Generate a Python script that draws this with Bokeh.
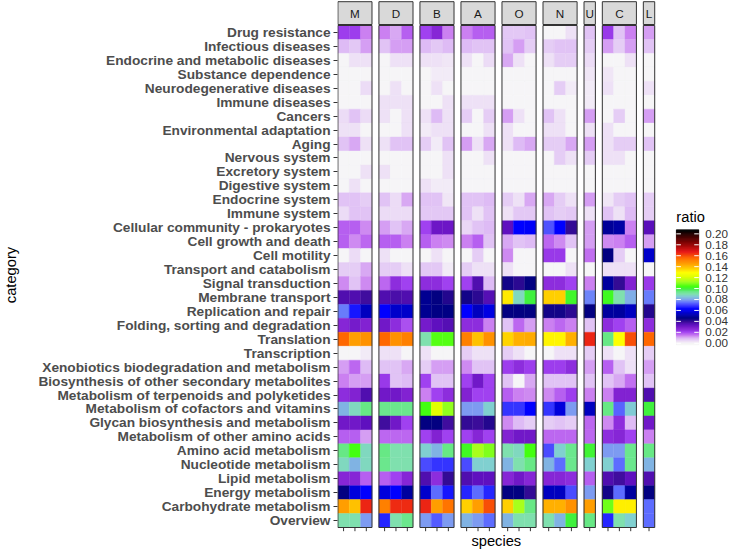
import numpy as np
from bokeh.plotting import figure
from bokeh.models import LinearColorMapper, FixedTicker, ColumnDataSource, Range1d
from bokeh.core.properties import value
from bokeh.embed import file_html
from bokeh.resources import INLINE

categories = [
    "Drug resistance", "Infectious diseases", "Endocrine and metabolic diseases",
    "Substance dependence", "Neurodegenerative diseases", "Immune diseases", "Cancers",
    "Environmental adaptation", "Aging", "Nervous system", "Excretory system",
    "Digestive system", "Endocrine system", "Immune system",
    "Cellular community - prokaryotes", "Cell growth and death", "Cell motility",
    "Transport and catabolism", "Signal transduction", "Membrane transport",
    "Replication and repair", "Folding, sorting and degradation", "Translation",
    "Transcription", "Xenobiotics biodegradation and metabolism",
    "Biosynthesis of other secondary metabolites",
    "Metabolism of terpenoids and polyketides", "Metabolism of cofactors and vitamins",
    "Glycan biosynthesis and metabolism", "Metabolism of other amino acids",
    "Amino acid metabolism", "Nucleotide metabolism", "Lipid metabolism",
    "Energy metabolism", "Carbohydrate metabolism", "Overview",
]

facets = ["M", "D", "B", "A", "O", "N", "U", "C", "L"]
n_species = [3, 3, 3, 3, 3, 3, 1, 3, 1]

# ratio values, one row per category (top to bottom), one value per species
ratio_M = [
    [0.022, 0.022, 0.015], [0.010, 0.008, 0.012], [0.001, 0.004, 0.004], [0.001, 0.001, 0.001],
    [0.001, 0.001, 0.005], [0.001, 0.001, 0.001], [0.005, 0.009, 0.005], [0.004, 0.004, 0.001],
    [0.009, 0.011, 0.004], [0.001, 0.001, 0.001], [0.001, 0.001, 0.004], [0.001, 0.004, 0.001],
    [0.009, 0.009, 0.007], [0.005, 0.009, 0.009], [0.018, 0.018, 0.014], [0.018, 0.014, 0.017],
    [0.001, 0.005, 0.001], [0.007, 0.007, 0.011], [0.014, 0.009, 0.014], [0.037, 0.037, 0.039],
    [0.076, 0.066, 0.054], [0.027, 0.030, 0.028], [0.157, 0.146, 0.149], [0.001, 0.001, 0.002],
    [0.012, 0.017, 0.010], [0.015, 0.012, 0.012], [0.025, 0.028, 0.037], [0.083, 0.089, 0.095],
    [0.031, 0.031, 0.034], [0.018, 0.018, 0.012], [0.095, 0.104, 0.089], [0.089, 0.083, 0.089],
    [0.027, 0.027, 0.018], [0.046, 0.058, 0.063], [0.146, 0.140, 0.166], [0.090, 0.090, 0.080],
]
ratio_D = [
    [0.015, 0.011, 0.018], [0.009, 0.012, 0.012], [0.001, 0.004, 0.004], [0.001, 0.001, 0.001],
    [0.001, 0.004, 0.001], [0.004, 0.004, 0.004], [0.004, 0.001, 0.004], [0.001, 0.001, 0.004],
    [0.004, 0.009, 0.009], [0.001, 0.001, 0.001], [0.004, 0.001, 0.001], [0.001, 0.001, 0.001],
    [0.009, 0.005, 0.011], [0.005, 0.005, 0.005], [0.012, 0.009, 0.011], [0.018, 0.018, 0.015],
    [0.004, 0.001, 0.001], [0.007, 0.007, 0.004], [0.017, 0.025, 0.021], [0.037, 0.038, 0.037],
    [0.063, 0.056, 0.056], [0.031, 0.025, 0.020], [0.157, 0.149, 0.152], [0.004, 0.004, 0.001],
    [0.009, 0.009, 0.011], [0.023, 0.009, 0.010], [0.031, 0.031, 0.028], [0.094, 0.094, 0.094],
    [0.039, 0.031, 0.021], [0.017, 0.017, 0.017], [0.095, 0.090, 0.090], [0.094, 0.090, 0.090],
    [0.018, 0.021, 0.027], [0.058, 0.063, 0.050], [0.152, 0.165, 0.165], [0.067, 0.090, 0.094],
]
ratio_B = [
    [0.021, 0.027, 0.015], [0.010, 0.008, 0.010], [0.004, 0.004, 0.003], [0.001, 0.002, 0.002],
    [0.001, 0.004, 0.001], [0.001, 0.001, 0.004], [0.004, 0.010, 0.004], [0.002, 0.004, 0.004],
    [0.007, 0.002, 0.009], [0.001, 0.001, 0.004], [0.001, 0.001, 0.004], [0.004, 0.002, 0.002],
    [0.009, 0.009, 0.003], [0.008, 0.008, 0.008], [0.021, 0.032, 0.032], [0.018, 0.015, 0.014],
    [0.001, 0.004, 0.001], [0.008, 0.008, 0.002], [0.025, 0.025, 0.021], [0.048, 0.046, 0.043],
    [0.048, 0.047, 0.047], [0.030, 0.034, 0.036], [0.090, 0.106, 0.106], [0.004, 0.001, 0.001],
    [0.007, 0.012, 0.012], [0.021, 0.009, 0.009], [0.015, 0.021, 0.025], [0.104, 0.122, 0.112],
    [0.046, 0.046, 0.039], [0.021, 0.028, 0.021], [0.087, 0.083, 0.095], [0.071, 0.069, 0.069],
    [0.037, 0.025, 0.041], [0.056, 0.075, 0.066], [0.166, 0.146, 0.154], [0.080, 0.073, 0.080],
]
ratio_A = [
    [0.015, 0.018, 0.018], [0.010, 0.009, 0.009], [0.004, 0.001, 0.005], [0.001, 0.001, 0.001],
    [0.001, 0.001, 0.001], [0.004, 0.004, 0.004], [0.007, 0.001, 0.007], [0.001, 0.001, 0.004],
    [0.012, 0.004, 0.011], [0.001, 0.001, 0.004], [0.001, 0.001, 0.001], [0.001, 0.001, 0.001],
    [0.009, 0.009, 0.010], [0.009, 0.004, 0.009], [0.006, 0.009, 0.010], [0.015, 0.018, 0.009],
    [0.001, 0.007, 0.001], [0.007, 0.004, 0.004], [0.021, 0.037, 0.010], [0.044, 0.042, 0.036],
    [0.063, 0.054, 0.059], [0.025, 0.025, 0.015], [0.152, 0.140, 0.149], [0.007, 0.004, 0.004],
    [0.014, 0.009, 0.009], [0.021, 0.031, 0.021], [0.028, 0.021, 0.021], [0.080, 0.080, 0.087],
    [0.041, 0.040, 0.043], [0.021, 0.027, 0.021], [0.103, 0.114, 0.110], [0.071, 0.087, 0.087],
    [0.037, 0.034, 0.034], [0.067, 0.075, 0.067], [0.137, 0.146, 0.160], [0.083, 0.080, 0.075],
]
ratio_O = [
    [0.008, 0.008, 0.009], [0.009, 0.012, 0.007], [0.011, 0.004, 0.001], [0.001, 0.001, 0.001],
    [0.001, 0.001, 0.001], [0.001, 0.001, 0.001], [0.012, 0.004, 0.001], [0.004, 0.001, 0.001],
    [0.004, 0.010, 0.011], [0.001, 0.001, 0.001], [0.001, 0.001, 0.001], [0.001, 0.001, 0.001],
    [0.007, 0.004, 0.011], [0.004, 0.008, 0.008], [0.034, 0.063, 0.062], [0.011, 0.009, 0.010],
    [0.014, 0.001, 0.001], [0.004, 0.001, 0.001], [0.044, 0.042, 0.046], [0.133, 0.089, 0.100],
    [0.046, 0.046, 0.046], [0.009, 0.017, 0.012], [0.136, 0.143, 0.144], [0.007, 0.004, 0.001],
    [0.022, 0.025, 0.022], [0.009, 0.001, 0.011], [0.018, 0.015, 0.014], [0.069, 0.069, 0.063],
    [0.014, 0.010, 0.007], [0.028, 0.031, 0.031], [0.090, 0.089, 0.104], [0.083, 0.090, 0.095],
    [0.027, 0.031, 0.027], [0.046, 0.046, 0.041], [0.137, 0.114, 0.095], [0.083, 0.090, 0.090],
]
ratio_N = [
    [0.001, 0.001, 0.004], [0.007, 0.009, 0.009], [0.004, 0.007, 0.007], [0.001, 0.001, 0.001],
    [0.001, 0.007, 0.002], [0.001, 0.001, 0.001], [0.009, 0.004, 0.001], [0.004, 0.004, 0.001],
    [0.007, 0.007, 0.011], [0.001, 0.007, 0.004], [0.001, 0.001, 0.001], [0.001, 0.001, 0.001],
    [0.011, 0.007, 0.004], [0.009, 0.007, 0.008], [0.072, 0.063, 0.041], [0.017, 0.014, 0.009],
    [0.023, 0.023, 0.001], [0.001, 0.001, 0.004], [0.025, 0.025, 0.021], [0.137, 0.137, 0.102],
    [0.044, 0.044, 0.042], [0.015, 0.017, 0.015], [0.131, 0.131, 0.143], [0.001, 0.004, 0.004],
    [0.022, 0.022, 0.025], [0.009, 0.009, 0.009], [0.014, 0.018, 0.022], [0.069, 0.058, 0.080],
    [0.007, 0.009, 0.007], [0.017, 0.017, 0.017], [0.071, 0.087, 0.094], [0.083, 0.075, 0.094],
    [0.027, 0.027, 0.025], [0.054, 0.054, 0.071], [0.143, 0.143, 0.149], [0.090, 0.083, 0.100],
]
ratio_U = [
    [0.009], [0.007], [0.005], [0.003], [0.002], [0.002], [0.012], [0.004], [0.012],
    [0.007], [0.001], [0.001], [0.012], [0.004], [0.012], [0.012], [0.016], [0.001],
    [0.015], [0.077], [0.046], [0.009], [0.166], [0.007], [0.012], [0.009], [0.015],
    [0.054], [0.017], [0.017], [0.101], [0.087], [0.018], [0.080], [0.146], [0.095],
]
ratio_C = [
    [0.023, 0.009, 0.015], [0.012, 0.007, 0.012], [0.001, 0.001, 0.004], [0.003, 0.001, 0.001],
    [0.004, 0.001, 0.001], [0.001, 0.001, 0.001], [0.001, 0.007, 0.001], [0.004, 0.001, 0.001],
    [0.004, 0.007, 0.007], [0.004, 0.004, 0.001], [0.001, 0.001, 0.001], [0.001, 0.001, 0.001],
    [0.003, 0.007, 0.009], [0.009, 0.004, 0.010], [0.049, 0.051, 0.015], [0.014, 0.015, 0.018],
    [0.046, 0.007, 0.001], [0.004, 0.004, 0.004], [0.050, 0.041, 0.028], [0.103, 0.090, 0.082],
    [0.050, 0.050, 0.054], [0.025, 0.021, 0.018], [0.095, 0.130, 0.160], [0.004, 0.001, 0.004],
    [0.018, 0.009, 0.004], [0.009, 0.011, 0.016], [0.015, 0.028, 0.028], [0.095, 0.074, 0.086],
    [0.014, 0.025, 0.010], [0.025, 0.027, 0.021], [0.080, 0.080, 0.094], [0.087, 0.075, 0.094],
    [0.037, 0.039, 0.034], [0.044, 0.075, 0.050], [0.108, 0.132, 0.132], [0.067, 0.090, 0.087],
]
ratio_L = [
    [0.012], [0.009], [0.001], [0.001], [0.004], [0.001], [0.012], [0.001], [0.009],
    [0.001], [0.001], [0.001], [0.007], [0.007], [0.035], [0.012], [0.056], [0.001],
    [0.023], [0.076], [0.043], [0.025], [0.157], [0.007], [0.012], [0.009], [0.037],
    [0.100], [0.031], [0.015], [0.095], [0.083], [0.037], [0.046], [0.075], [0.075],
]

ratio_by_facet = {"M": ratio_M, "D": ratio_D, "B": ratio_B, "A": ratio_A, "O": ratio_O,
                  "N": ratio_N, "U": ratio_U, "C": ratio_C, "L": ratio_L}

legend_ticks = [0.00, 0.02, 0.04, 0.06, 0.08, 0.10, 0.12, 0.14, 0.16, 0.18, 0.20]

# ---------------- colour scale (style) ----------------
stops = [
    (0.000, "#f7f7f7"), (0.009, "#e0c0f5"), (0.015, "#c878f0"), (0.021, "#a040f0"),
    (0.028, "#8020d0"), (0.034, "#6010c0"), (0.040, "#3a0c98"), (0.046, "#000080"),
    (0.054, "#0000c0"), (0.063, "#0000ff"), (0.071, "#4848ff"), (0.075, "#6070ff"),
    (0.080, "#80a0f0"), (0.087, "#80d0d0"), (0.090, "#80e0b0"), (0.095, "#68e888"),
    (0.100, "#40f040"), (0.104, "#40ff10"), (0.113, "#a0ff20"), (0.122, "#e0ff00"),
    (0.130, "#ffff00"), (0.137, "#ffd000"), (0.143, "#ffb000"), (0.149, "#ff9000"),
    (0.157, "#ff6800"), (0.168, "#e81818"), (0.185, "#800000"), (0.207, "#000000"),
]
lo, hi = -0.003, 0.2074
sv = np.array([s[0] for s in stops])
sc = np.array([[int(h[i:i + 2], 16) for i in (1, 3, 5)] for _, h in stops], dtype=float)
n_pal = 256
grid = np.linspace(lo, hi, n_pal)
rgb = np.stack([np.interp(grid, sv, sc[:, k]) for k in range(3)], axis=1)
palette = ["#%02x%02x%02x" % tuple(int(round(c)) for c in r) for r in rgb]
mapper = LinearColorMapper(palette=palette, low=lo, high=hi)

# ---------------- geometry (canvas pixels) ----------------
n_rows = len(categories)
W, H = 729, 549
left_border = 333
frame_w = W - left_border
col_px = 11.48            # px per species column
gap = 7.0 / col_px        # gap between facet panels (column units)
tiles_top_px, tiles_bot_px = 25.0, 527.0
row_px = (tiles_bot_px - tiles_top_px) / n_rows

starts = []
acc = 0.0
for n in n_species:
    starts.append(acc)
    acc += n + gap
total_x = acc - gap

pad_x = 0.4 / col_px
x0 = -pad_x
x1 = x0 + frame_w / col_px
y_top = n_rows - 0.5 + tiles_top_px / row_px
y_bot = y_top - H / row_px


def px_to_x(px):
    return x0 + (px - left_border) / col_px


def px_to_y(px):
    return y_top - px / row_px


xs, ys, vs = [], [], []
tick_x = []
for k, f in enumerate(facets):
    vals = ratio_by_facet[f]
    for j in range(n_species[k]):
        cx = starts[k] + j + 0.5
        tick_x.append(cx)
        for i in range(n_rows):
            xs.append(cx)
            ys.append(n_rows - 1 - i)
            vs.append(vals[i][j])
src = ColumnDataSource(dict(x=xs, y=ys, v=vs))

p = figure(width=W, height=H, title=None,
           x_range=Range1d(x0, x1), y_range=Range1d(y_bot, y_top),
           output_backend="svg", toolbar_location=None, x_axis_location=None,
           min_border_left=left_border, min_border_right=0,
           min_border_top=0, min_border_bottom=0)
p.outline_line_color = None
p.xgrid.visible = False
p.ygrid.visible = False
p.background_fill_color = "white"

# tiles
p.rect(x="x", y="y", width=1, height=1, source=src,
       fill_color={"field": "v", "transform": mapper},
       line_color={"field": "v", "transform": mapper}, line_width=0.4)

# panel borders
lefts = [starts[k] for k in range(len(facets))]
rights = [starts[k] + n_species[k] for k in range(len(facets))]
p.quad(left=lefts, right=rights, bottom=-0.5, top=n_rows - 0.5,
       fill_color=None, line_color="#333333", line_width=1)

# facet strips
strip_bottom = px_to_y(24.0)
strip_top = px_to_y(1.2)
p.quad(left=lefts, right=rights, bottom=strip_bottom, top=strip_top,
       fill_color="#d9d9d9", line_color="#333333", line_width=1)
p.text(x=[(a + b) / 2 for a, b in zip(lefts, rights)],
       y=(strip_bottom + strip_top) / 2, text=facets,
       text_align="center", text_baseline="middle",
       text_font=value("Liberation Sans"), text_font_size="11.7px", text_color="#1a1a1a")

# x ticks (species) and x title
p.segment(x0=tick_x, x1=tick_x, y0=-0.5, y1=px_to_y(tiles_bot_px + 3.7),
          line_color="#333333", line_width=1)
p.text(x=[total_x / 2], y=[px_to_y(540.5)], text=["species"],
       text_align="center", text_baseline="middle",
       text_font=value("Liberation Sans"), text_font_size="14.7px", text_color="#000000")

# y axis
ya = p.yaxis[0]
ya.ticker = FixedTicker(ticks=list(range(n_rows)), minor_ticks=[])
ya.major_label_overrides = {n_rows - 1 - i: c for i, c in enumerate(categories)}
ya.major_label_text_font = "Liberation Sans"
ya.major_label_text_font_size = "13.7px"
ya.major_label_text_font_style = "bold"
ya.major_label_text_color = "#4d4d4d"
ya.major_label_standoff = 3
ya.axis_line_color = None
ya.major_tick_line_color = "#333333"
ya.major_tick_out = 4
ya.major_tick_in = 0
ya.minor_tick_line_color = None
ya.axis_label = "category"
ya.axis_label_text_font = "Liberation Sans"
ya.axis_label_text_font_size = "14.7px"
ya.axis_label_text_font_style = "normal"
ya.axis_label_text_color = "#000000"
ya.axis_label_standoff = 16

# ---------------- colour bar legend ----------------
bar_l_px, bar_r_px = 675.3, 698.0
bar_top_px, bar_bot_px = 229.3, 344.4


def val_to_y(v):
    return px_to_y(bar_bot_px - (v - lo) / (hi - lo) * (bar_bot_px - bar_top_px))


bl = px_to_x(bar_l_px)
br = px_to_x(bar_r_px)
edges = np.linspace(lo, hi, n_pal + 1)
p.quad(left=bl, right=br, bottom=[val_to_y(e) for e in edges[:-1]],
       top=[val_to_y(e) for e in edges[1:]], fill_color=palette, line_color=palette,
       line_width=0.5)
tick_len = 4.6 / col_px
ty = [val_to_y(t) for t in legend_ticks]
p.segment(x0=bl, x1=bl + tick_len, y0=ty, y1=ty, line_color="white", line_width=1)
p.segment(x0=br - tick_len, x1=br, y0=ty, y1=ty, line_color="white", line_width=1)
p.text(x=px_to_x(704.5), y=ty, text=["%.2f" % t for t in legend_ticks],
       text_align="left", text_baseline="middle",
       text_font=value("Liberation Sans"), text_font_size="11.7px", text_color="#333333")
p.text(x=[bl], y=[px_to_y(216.7)], text=["ratio"], text_align="left", text_baseline="middle",
       text_font=value("Liberation Sans"), text_font_size="14.7px", text_color="#000000")

open("out.html", "w").write(file_html(p, INLINE))
